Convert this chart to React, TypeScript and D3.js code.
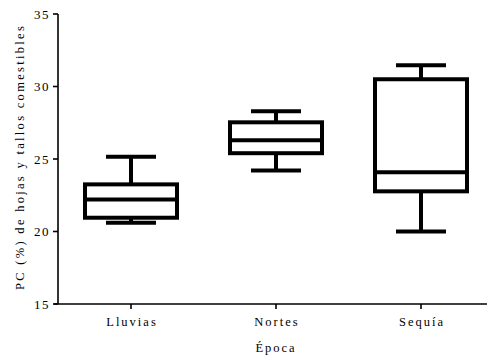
import React from "react";
import * as d3 from "d3";

const categories = ["Lluvias", "Nortes", "Sequía"];
const whiskerLow = [20.6, 24.2, 20.0];
const q1 = [20.95, 25.4, 22.77];
const median = [22.2, 26.3, 24.08];
const q3 = [23.25, 27.53, 30.5];
const whiskerHigh = [25.15, 28.3, 31.46];
const yTicks = [15, 20, 25, 30, 35];

const W = 487;
const H = 360;
const FONT = "'Liberation Serif', 'DejaVu Serif', serif";

export default function App() {
  const x = d3.scalePoint<string>().domain(categories).range([131, 421]);
  const y = d3.scaleLinear().domain([15, 35]).range([304, 14]);
  const boxW = 92;
  const capW = 50;
  const sw = 4;

  return (
    <svg width={W} height={H} style={{ position: "absolute", left: 0, top: 0, background: "#fff" }}>
      {/* axes */}
      <line x1={58} x2={58} y1={y(35)} y2={y(15)} stroke="#000" strokeWidth={1.6} />
      <line x1={54} x2={487} y1={y(15)} y2={y(15)} stroke="#000" strokeWidth={1.6} />
      {yTicks.map((t) => (
        <g key={t}>
          <line x1={53} x2={58} y1={y(t)} y2={y(t)} stroke="#000" strokeWidth={1.6} />
          <text x={50} y={y(t)} dy="0.35em" textAnchor="end" fontFamily={FONT} fontSize={13} letterSpacing={1.5}>
            {t}
          </text>
        </g>
      ))}
      {categories.map((c) => (
        <g key={c}>
          <line x1={x(c)} x2={x(c)} y1={y(15)} y2={y(15) + 5} stroke="#000" strokeWidth={1.6} />
          <text x={(x(c) as number) + 1} y={326} textAnchor="middle" fontFamily={FONT} fontSize={12.5} letterSpacing={2}>
            {c}
          </text>
        </g>
      ))}
      <text x={276} y={352} textAnchor="middle" fontFamily={FONT} fontSize={12.5} letterSpacing={2}>
        Época
      </text>
      <text
        transform={`translate(24,${157}) rotate(-90)`}
        textAnchor="middle"
        fontFamily={FONT}
        fontSize={12.5}
        letterSpacing={2.3}
      >
        PC (%) de hojas y tallos comestibles
      </text>

      {/* boxes */}
      {categories.map((c, i) => {
        const cx = x(c) as number;
        return (
          <g key={c} stroke="#000" strokeWidth={sw} fill="none">
            <line x1={cx} x2={cx} y1={y(whiskerHigh[i])} y2={y(q3[i])} />
            <line x1={cx} x2={cx} y1={y(q1[i])} y2={y(whiskerLow[i])} />
            <line x1={cx - capW / 2} x2={cx + capW / 2} y1={y(whiskerHigh[i])} y2={y(whiskerHigh[i])} />
            <line x1={cx - capW / 2} x2={cx + capW / 2} y1={y(whiskerLow[i])} y2={y(whiskerLow[i])} />
            <rect x={cx - boxW / 2} y={y(q3[i])} width={boxW} height={y(q1[i]) - y(q3[i])} />
            <line x1={cx - boxW / 2} x2={cx + boxW / 2} y1={y(median[i])} y2={y(median[i])} />
          </g>
        );
      })}
    </svg>
  );
}
